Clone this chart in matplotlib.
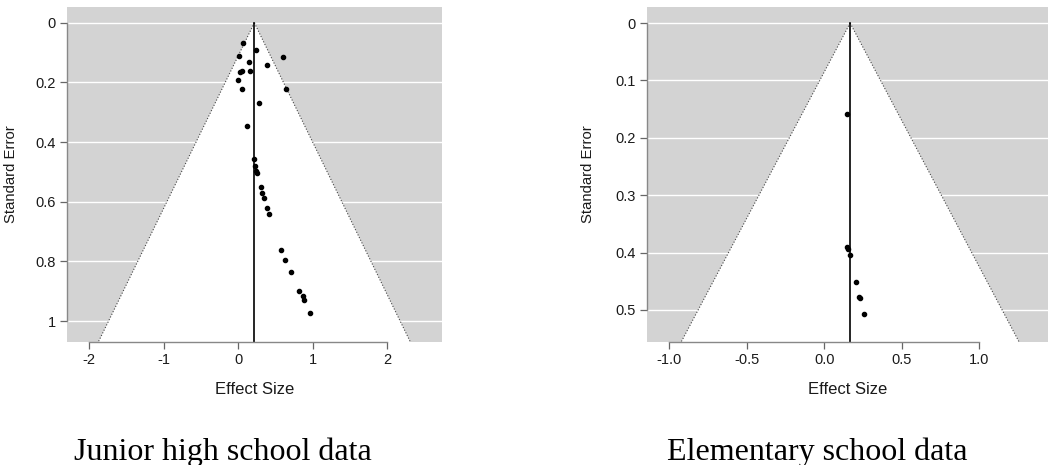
import numpy as np
import matplotlib
matplotlib.use("Agg")
import matplotlib.pyplot as plt

# junior high school study estimates (effect size, standard error)
jh_effect = [0.060, 0.244, 0.011, 0.603, 0.146, 0.383, 0.025, 0.047, 0.155, 0.002,
             0.052, 0.643, 0.284, 0.114, 0.208, 0.231, 0.244, 0.253, 0.302, 0.325,
             0.347, 0.387, 0.410, 0.580, 0.629, 0.710, 0.822, 0.867, 0.880, 0.961]
jh_se = [0.069, 0.092, 0.111, 0.116, 0.133, 0.140, 0.166, 0.162, 0.162, 0.192,
         0.223, 0.223, 0.268, 0.345, 0.458, 0.480, 0.498, 0.505, 0.549, 0.569,
         0.587, 0.622, 0.642, 0.761, 0.796, 0.835, 0.898, 0.917, 0.930, 0.974]
jh_center = 0.218

# elementary school study estimates
el_effect = [0.144, 0.145, 0.153, 0.164, 0.203, 0.224, 0.231, 0.256]
el_se = [0.158, 0.391, 0.394, 0.405, 0.451, 0.477, 0.479, 0.507]
el_center = 0.166

jh_xticks = [-2, -1, 0, 1, 2]
jh_xlabels = ["-2", "-1", "0", "1", "2"]
jh_yticks = [0, 0.2, 0.4, 0.6, 0.8, 1]
jh_ylabels = ["0", "0.2", "0.4", "0.6", "0.8", "1"]
el_xticks = [-1.0, -0.5, 0.0, 0.5, 1.0]
el_xlabels = ["-1.0", "-0.5", "0.0", "0.5", "1.0"]
el_yticks = [0, 0.1, 0.2, 0.3, 0.4, 0.5]
el_ylabels = ["0", "0.1", "0.2", "0.3", "0.4", "0.5"]

W, H = 1048, 465
fig = plt.figure(figsize=(W / 100, H / 100), dpi=100)
plt.rcParams['font.family'] = ['Liberation Sans', 'DejaVu Sans']


def px_axes(x0, x1, y0, y1):
    return fig.add_axes([x0 / W, (H - y1) / H, (x1 - x0) / W, (y1 - y0) / H])


def funnel(ax, effect, se, center, xlim, ylim, xticks, xlabels, yticks, ylabels):
    ax.set_facecolor('#d3d3d3')
    ax.set_xlim(*xlim)
    ax.set_ylim(ylim[1], ylim[0])
    ymax = ylim[1]
    for yt in yticks:
        ax.axhline(yt, color='white', lw=1.0, zorder=1)
    # pseudo 95% confidence region
    half = 1.96 * ymax
    ax.fill([center, center - half, center + half], [0, ymax, ymax],
            color='white', zorder=2, lw=0)
    ax.plot([center, center - half], [0, ymax], ls=':', color='#444444', lw=0.8, zorder=3)
    ax.plot([center, center + half], [0, ymax], ls=':', color='#444444', lw=0.8, zorder=3)
    ax.plot([center, center], [0, ymax], color='black', lw=1.2, zorder=4)
    ax.plot(effect, se, 'o', color='black', ms=3, zorder=5)

    for s in ['top', 'right']:
        ax.spines[s].set_visible(False)
    ax.spines['bottom'].set_bounds(xticks[0], xticks[-1])
    ax.spines['left'].set_bounds(yticks[0], yticks[-1])
    for s in ['bottom', 'left']:
        ax.spines[s].set_color('#888888')
        ax.spines[s].set_linewidth(1.0)
        ax.spines[s].set_zorder(6)
    ax.set_xticks(xticks)
    ax.set_xticklabels(xlabels)
    ax.set_yticks(yticks)
    ax.set_yticklabels(ylabels)
    ax.tick_params(axis='both', length=5, width=0.9, color='#666666',
                   labelsize=10.5, labelcolor='#1a1a1a', pad=3)
    ax.set_xlabel('Effect Size', fontsize=12, color='#1a1a1a')
    ax.set_ylabel('Standard Error', fontsize=10.7, color='#1a1a1a')
    ax.xaxis.set_label_coords(0.5, -0.12)
    ax.yaxis.set_label_coords(-0.13, 0.5)


ax1 = px_axes(67, 442, 7, 342)
funnel(ax1, jh_effect, jh_se, jh_center, (-2.30, 2.74), (-0.053, 1.07),
       jh_xticks, jh_xlabels, jh_yticks, jh_ylabels)

ax2 = px_axes(647, 1048, 7, 342)
funnel(ax2, el_effect, el_se, el_center, (-1.144, 1.442), (-0.028, 0.556),
       el_xticks, el_xlabels, el_yticks, el_ylabels)

fig.text(223 / W, (H - 460) / H, 'Junior high school data', fontsize=23,
         family=['Liberation Serif', 'DejaVu Serif'], ha='center', va='baseline')
fig.text(817 / W, (H - 460) / H, 'Elementary school data', fontsize=23,
         family=['Liberation Serif', 'DejaVu Serif'], ha='center', va='baseline')

fig.savefig('out.png', dpi=100)
